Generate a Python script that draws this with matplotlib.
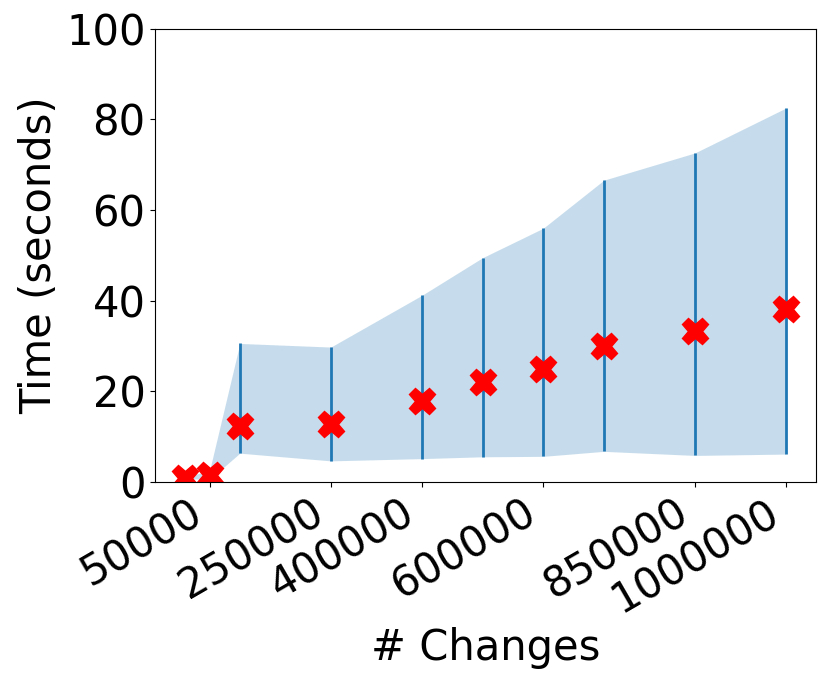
import matplotlib.pyplot as plt

changes = [10000, 50000, 100000, 250000, 400000, 500000, 600000, 700000, 850000, 1000000]
mean_time = [1.0, 1.5, 12.5, 12.8, 18.0, 22.0, 25.0, 30.0, 33.3, 38.3]
upper = [1.2, 2.5, 30.6, 29.8, 41.2, 49.5, 56.0, 66.6, 72.6, 82.5]
lower = [0.8, 0.6, 6.4, 4.7, 5.2, 5.6, 5.7, 6.8, 5.9, 6.2]

tick_vals = [50000, 250000, 400000, 600000, 850000, 1000000]

fig = plt.figure(figsize=(8.3, 6.83), dpi=100)
ax = fig.add_axes([0.187, 0.294, 0.796, 0.664])

ax.fill_between(changes, lower, upper, color='C0', alpha=0.25, linewidth=0)
ax.vlines(changes, lower, upper, color='C0', linewidth=2)
ax.plot(changes, mean_time, 'X', color='red', markersize=19, linestyle='none')

ax.set_ylim(0, 100)
ax.set_xticks(tick_vals)
ax.set_xticklabels([str(v) for v in tick_vals], rotation=30, ha='right')
ax.tick_params(axis='both', labelsize=30)

ax.set_xlabel("# Changes", fontsize=30)
ax.set_ylabel("Time (seconds)", fontsize=30)

fig.savefig("out.png", dpi=100)
